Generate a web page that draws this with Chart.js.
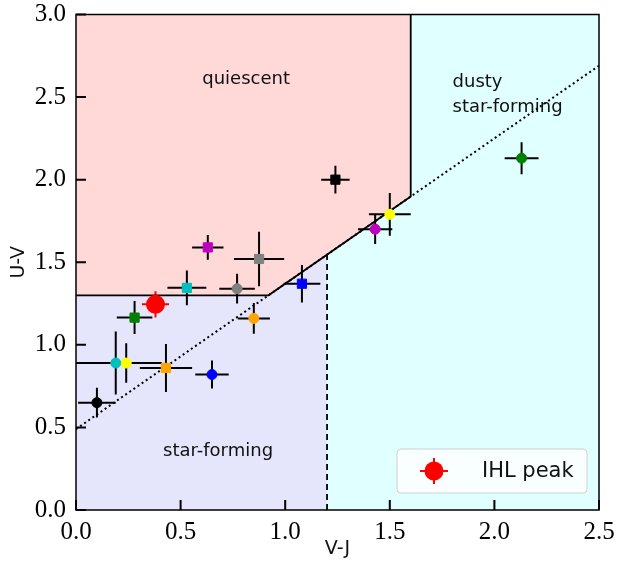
<!DOCTYPE html>
<html>
<head>
<meta charset="utf-8">
<script src="https://cdn.jsdelivr.net/npm/chart.js@4.4.0/dist/chart.umd.min.js"></script>
<style>
html,body{margin:0;padding:0;background:#fff;}
</style>
</head>
<body>
<canvas id="uvj" width="617" height="563"></canvas>
<script>
// UVJ selection box
const boxSlope = 0.88;
const boxIntercept = 0.49;
const quiescentFloor = 1.3;
const dustyCutVJ = 1.2;
const quiescentMaxVJ = 1.6;

// round markers
const circX     = [0.10, 0.19, 0.24, 0.65, 0.77, 0.85, 1.43, 1.50, 2.13];
const circY     = [0.65, 0.89, 0.89, 0.82, 1.34, 1.16, 1.70, 1.79, 2.13];
const circXErr  = [0.09, 0.22, 0.10, 0.08, 0.085, 0.077, 0.082, 0.10, 0.081];
const circYErr  = [0.09, 0.19, 0.12, 0.085, 0.09, 0.093, 0.09, 0.13, 0.097];
const circColors = ['#000000','#00bfbf','#ffff00','#0000ff','#808080','#ffa500','#bf00bf','#ffff00','#008000'];

// square markers
const sqX      = [0.43, 0.28, 0.53, 0.63, 0.875, 1.08, 1.24];
const sqY      = [0.86, 1.165, 1.345, 1.59, 1.52, 1.37, 2.00];
const sqXErr   = [0.125, 0.085, 0.093, 0.075, 0.12, 0.088, 0.068];
const sqYErr   = [0.145, 0.10, 0.105, 0.075, 0.165, 0.113, 0.084];
const sqColors = ['#ffa500','#008000','#00bfbf','#bf00bf','#808080','#0000ff','#000000'];

// IHL peak
const ihlX = [0.38], ihlY = [1.245], ihlXErr = [0.065], ihlYErr = [0.08];

// region labels
const labelText  = ['quiescent', 'dusty', 'star-forming', 'star-forming'];
const labelX     = [0.813, 1.80, 1.80, 0.679];
const labelY     = [2.607, 2.59, 2.44, 0.353];
const labelAlign = ['center', 'left', 'left', 'center'];

const lineAt = x => boxSlope * x + boxIntercept;
const cornerX = (quiescentFloor - boxIntercept) / boxSlope;
const pts = (xs, ys) => xs.map((x, i) => ({x, y: ys[i]}));

const region = (data, fill, color) => ({
  data, fill, showLine: true, pointRadius: 0, borderWidth: 0,
  backgroundColor: color, order: 10
});
const edge = (data, dash, width) => ({
  data, showLine: true, pointRadius: 0, borderColor: '#000',
  borderWidth: width, borderDash: dash, fill: false, order: 5
});

const errorBars = {
  id: 'errorBars',
  beforeDatasetsDraw(chart){
    const {ctx, chartArea: a, scales: {x, y}} = chart;
    ctx.save();
    ctx.beginPath(); ctx.rect(a.left, a.top, a.width, a.height); ctx.clip();
    chart.data.datasets.forEach(ds => {
      if (!ds.xErr) return;
      ctx.strokeStyle = ds.errColor; ctx.lineWidth = 2;
      ds.data.forEach((p, i) => {
        const px = x.getPixelForValue(p.x), py = y.getPixelForValue(p.y);
        ctx.beginPath();
        ctx.moveTo(x.getPixelForValue(p.x - ds.xErr[i]), py);
        ctx.lineTo(x.getPixelForValue(p.x + ds.xErr[i]), py);
        ctx.moveTo(px, y.getPixelForValue(p.y - ds.yErr[i]));
        ctx.lineTo(px, y.getPixelForValue(p.y + ds.yErr[i]));
        ctx.stroke();
      });
    });
    ctx.restore();
  }
};

const frameTicks = {
  id: 'frameTicks',
  afterDatasetsDraw(chart){
    const {ctx, chartArea: a, scales: {x, y}} = chart;
    ctx.save();
    // region names
    ctx.fillStyle = '#111';
    ctx.font = '18px "DejaVu Sans"';
    ctx.textBaseline = 'middle';
    labelText.forEach((t, i) => {
      ctx.textAlign = labelAlign[i];
      ctx.fillText(t, x.getPixelForValue(labelX[i]), y.getPixelForValue(labelY[i]));
    });
    ctx.strokeStyle = '#000'; ctx.lineWidth = 1.5;
    ctx.strokeRect(a.left, a.top, a.width, a.height);
    ctx.lineWidth = 2;
    ctx.beginPath();
    x.ticks.forEach(t => { const px = x.getPixelForValue(t.value); ctx.moveTo(px, a.bottom); ctx.lineTo(px, a.bottom - 10); });
    y.ticks.forEach(t => { const py = y.getPixelForValue(t.value); ctx.moveTo(a.left, py); ctx.lineTo(a.left + 10, py); });
    ctx.stroke();
    ctx.restore();
  }
};

const legendBox = {
  id: 'legendBox',
  afterDraw(chart){
    const {ctx, chartArea: a} = chart;
    const w = 190, h = 44, r = 4;
    const bx = a.right - 12 - w, by = a.bottom - 17 - h;
    ctx.save();
    ctx.beginPath();
    ctx.moveTo(bx + r, by);
    ctx.arcTo(bx + w, by, bx + w, by + h, r);
    ctx.arcTo(bx + w, by + h, bx, by + h, r);
    ctx.arcTo(bx, by + h, bx, by, r);
    ctx.arcTo(bx, by, bx + w, by, r);
    ctx.closePath();
    ctx.fillStyle = 'rgba(255,255,255,0.8)'; ctx.fill();
    ctx.strokeStyle = '#d0d0d0'; ctx.lineWidth = 1; ctx.stroke();
    const mx = bx + 37, my = by + h / 2;
    ctx.strokeStyle = 'red'; ctx.lineWidth = 2;
    ctx.beginPath();
    ctx.moveTo(mx - 14, my); ctx.lineTo(mx + 14, my);
    ctx.moveTo(mx, my - 13); ctx.lineTo(mx, my + 13);
    ctx.stroke();
    ctx.fillStyle = 'red';
    ctx.beginPath(); ctx.arc(mx, my, 9.5, 0, Math.PI * 2); ctx.fill();
    ctx.fillStyle = '#111';
    ctx.font = '21px "DejaVu Sans"';
    ctx.textAlign = 'left'; ctx.textBaseline = 'middle';
    ctx.fillText('IHL peak', bx + 85, my + 1);
    ctx.restore();
  }
};

const tickFont = {family: '"Liberation Serif", "Times New Roman", serif', size: 25, lineHeight: 1.0};
const titleFont = {family: '"DejaVu Sans", sans-serif', size: 19};

new Chart(document.getElementById('uvj'), {
  type: 'scatter',
  data: {
    datasets: [
      {label: 'IHL peak', data: pts(ihlX, ihlY), xErr: ihlXErr, yErr: ihlYErr, errColor: 'red',
       pointStyle: 'circle', pointRadius: 9.5, backgroundColor: 'red', borderColor: 'red', borderWidth: 0, order: 0},
      {label: 'circles', data: pts(circX, circY), xErr: circXErr, yErr: circYErr, errColor: '#000',
       pointStyle: 'circle', pointRadius: 5, backgroundColor: circColors, borderColor: circColors, borderWidth: 1, order: 1},
      {label: 'squares', data: pts(sqX, sqY), xErr: sqXErr, yErr: sqYErr, errColor: '#000',
       pointStyle: 'rect', pointRadius: 6.5, backgroundColor: sqColors, borderColor: sqColors, borderWidth: 1, order: 1},
      edge([{x: 0, y: quiescentFloor}, {x: cornerX, y: quiescentFloor},
            {x: quiescentMaxVJ, y: lineAt(quiescentMaxVJ)}, {x: quiescentMaxVJ, y: 3}], [], 1.8),
      edge([{x: dustyCutVJ, y: 0}, {x: dustyCutVJ, y: lineAt(dustyCutVJ)}], [6, 4], 1.8),
      edge([{x: 0, y: lineAt(0)}, {x: 2.5, y: lineAt(2.5)}], [2, 3], 2),
      region([{x: 0, y: quiescentFloor}, {x: cornerX, y: quiescentFloor},
              {x: quiescentMaxVJ, y: lineAt(quiescentMaxVJ)}], 'end', '#ffd8d8'),
      region([{x: 0, y: quiescentFloor}, {x: cornerX, y: quiescentFloor},
              {x: dustyCutVJ, y: lineAt(dustyCutVJ)}], 'origin', '#e5e5fc'),
      region([{x: dustyCutVJ, y: lineAt(dustyCutVJ)}, {x: quiescentMaxVJ, y: lineAt(quiescentMaxVJ)},
              {x: quiescentMaxVJ, y: 3}, {x: 2.5, y: 3}], 'origin', '#e0ffff')
    ]
  },
  options: {
    responsive: false,
    devicePixelRatio: 1,
    animation: false,
    layout: {padding: {left: 0, top: 14, right: 18, bottom: 0}},
    plugins: {legend: {display: false}, tooltip: {enabled: false}, filler: {drawTime: 'beforeDatasetsDraw'}},
    scales: {
      x: {
        type: 'linear', min: 0, max: 2.5,
        grid: {display: false}, border: {display: false},
        ticks: {stepSize: 0.5, color: '#000', font: tickFont, padding: 2, maxRotation: 0, callback: v => v.toFixed(1)},
        title: {display: true, text: 'V-J', color: '#111', font: titleFont, padding: {top: 0, bottom: 3}},
        afterFit(s){ s.height = 53; }
      },
      y: {
        type: 'linear', min: 0, max: 3,
        grid: {display: false}, border: {display: false},
        ticks: {stepSize: 0.5, color: '#000', font: tickFont, padding: 2, callback: v => v.toFixed(1)},
        title: {display: true, text: 'U-V', color: '#111', font: titleFont, padding: {top: 8, bottom: 0}},
        afterFit(s){ s.width = 76; }
      }
    }
  },
  plugins: [errorBars, frameTicks, legendBox]
});
</script>
</body>
</html>
